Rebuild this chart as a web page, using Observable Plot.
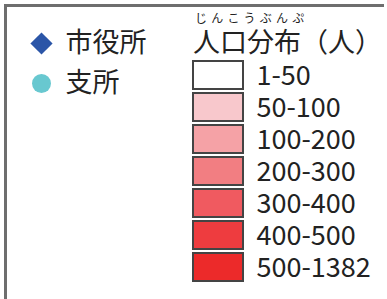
<!DOCTYPE html>
<html>
<head>
<meta charset="utf-8">
<script src="https://cdn.jsdelivr.net/npm/d3@7"></script>
<script src="https://cdn.jsdelivr.net/npm/@observablehq/plot@0.6"></script>
<style>
  html, body { margin: 0; padding: 0; background: #fff; }
  #wrap { position: relative; width: 387px; height: 299px; overflow: hidden; font-family: "Noto Sans CJK JP", "Noto Sans", sans-serif; }
  #wrap svg { position: absolute; left: 0; top: 0; }
  .frameL { position: absolute; left: 4px; top: 4px; width: 3px; height: 300px; background: #6e6e6e; }
  .frameT { position: absolute; left: 4px; top: 4px; width: 380px; height: 3px; background: #6e6e6e; }
  .ruby { position: absolute; left: 195px; top: 12px; font-size: 12px; line-height: 12px; letter-spacing: 4.2px; color: #222; white-space: nowrap; }
  .title { position: absolute; left: 193px; top: 27px; font-size: 27px; line-height: 27px; color: #222; white-space: nowrap; }
</style>
</head>
<body>
<div id="wrap">
  <div class="frameL"></div>
  <div class="frameT"></div>
  <div class="ruby">じんこうぶんぷ</div>
  <div class="title">人口分布（人）</div>
</div>
<script>
// Facility legend
const facilities = ["市役所", "支所"];
const facilitySymbols = ["diamond2", "circle"];
const facilityColors = ["#2b55a7", "#68c8d0"];

// Population legend
const classes = ["1-50", "50-100", "100-200", "200-300", "300-400", "400-500", "500-1382"];
const classColors = ["#ffffff", "#f8c8cc", "#f5a2a6", "#f27e82", "#f05a60", "#ee3c3f", "#ec2a2a"];

const facilityData = facilities.map((name, i) => ({name, symbol: facilitySymbols[i]}));
const classData = classes.map(c => ({cls: c, col: "swatch"}));

const left = Plot.plot({
  width: 387, height: 299,
  margin: 0,
  x: {type: "point", domain: ["sym"], range: [41, 41], padding: 0, axis: null},
  y: {type: "point", domain: facilities, range: [42.5, 83], padding: 0, axis: null},
  r: {type: "identity"},
  symbol: {domain: facilities, range: facilitySymbols},
  color: {domain: facilities, range: facilityColors},
  marks: [
    Plot.dot(facilityData, {x: () => "sym", y: "name", symbol: "name", fill: "name", r: d => d.symbol === "circle" ? 9.5 : 10, stroke: "none"}),
    Plot.text(facilityData, {x: () => "sym", y: "name", text: "name", dx: 24, dy: 0, textAnchor: "start", fontSize: 27, fill: "#222", fontFamily: "Noto Sans CJK JP"})
  ],
  style: {background: "transparent", overflow: "visible"}
});

const right = Plot.plot({
  width: 387, height: 299,
  margin: 0,
  x: {type: "band", domain: ["swatch"], range: [193, 243], padding: 0, axis: null},
  y: {type: "band", domain: classes, range: [55.8, 285.4], padding: 0.13, axis: null},
  color: {type: "ordinal", domain: classes, range: classColors},
  marks: [
    Plot.cell(classData, {x: "col", y: "cls", fill: "cls", stroke: "#444", strokeWidth: 2, inset: 0}),
    Plot.text(classData, {x: "col", y: "cls", text: "cls", dx: 38, dy: 1, textAnchor: "start", fontSize: 27, fill: "#222", fontFamily: "Noto Sans CJK JP"})
  ],
  style: {background: "transparent", overflow: "visible"}
});

const wrap = document.getElementById("wrap");
wrap.appendChild(left);
wrap.appendChild(right);
</script>
</body>
</html>
